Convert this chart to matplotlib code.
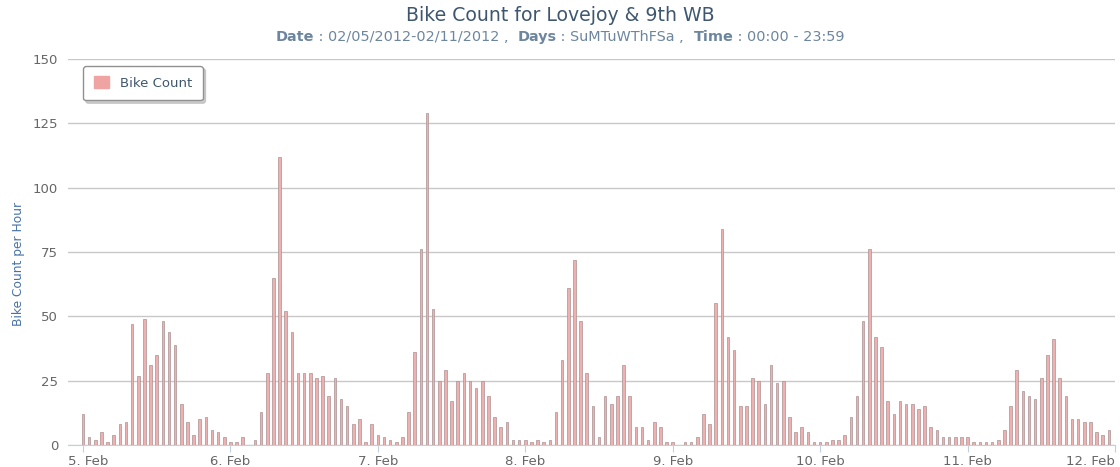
import numpy as np
import matplotlib.pyplot as plt
from matplotlib.patches import Patch
from matplotlib import transforms

plt.rcParams['font.family'] = 'DejaVu Sans'

# hourly bike counts, 5 Feb 00:00 .. 11 Feb 23:00 (one list per day)
day_5 = [12, 3, 2, 5, 1, 4, 8, 9, 47, 27, 49, 31, 35, 48, 44, 39, 16, 9, 4, 10, 11, 6, 5, 3]
day_6 = [1, 1, 3, 0, 2, 13, 28, 65, 112, 52, 44, 28, 28, 28, 26, 27, 19, 26, 18, 15, 8, 10, 1, 8]
day_7 = [4, 3, 2, 1, 3, 13, 36, 76, 129, 53, 25, 29, 17, 25, 28, 25, 22, 25, 19, 11, 7, 9, 2, 2]
day_8 = [2, 1, 2, 1, 2, 13, 33, 61, 72, 48, 28, 15, 3, 19, 16, 19, 31, 19, 7, 7, 2, 9, 7, 1]
day_9 = [1, 0, 1, 1, 3, 12, 8, 55, 84, 42, 37, 15, 15, 26, 25, 16, 31, 24, 25, 11, 5, 7, 5, 1]
day_10 = [1, 1, 2, 2, 4, 11, 19, 48, 76, 42, 38, 17, 12, 17, 16, 16, 14, 15, 7, 6, 3, 3, 3, 3]
day_11 = [3, 1, 1, 1, 1, 2, 6, 15, 29, 21, 19, 18, 26, 35, 41, 26, 19, 10, 10, 9, 9, 5, 4, 6]

day_labels = ["5. Feb", "6. Feb", "7. Feb", "8. Feb", "9. Feb", "10. Feb", "11. Feb", "12. Feb"]
y_ticks = [0, 25, 50, 75, 100, 125, 150]

counts = day_5 + day_6 + day_7 + day_8 + day_9 + day_10 + day_11
hours = np.arange(len(counts))

fig = plt.figure(figsize=(11.2, 4.67), dpi=100)
ax = fig.add_axes([0.0607, 0.0471, 0.9348, 0.8266])

ax.bar(hours, counts, width=0.42, color="#F0B0B0", edgecolor="#A89292", linewidth=0.5,
       zorder=3)

ax.set_xlim(-2.44, 168)
ax.set_ylim(0, 150)
ax.set_yticks(y_ticks)
ax.set_xticks(np.arange(0, 169, 24))
ax.set_xticklabels(day_labels)
ax.yaxis.grid(True, color="#C8C8C8", linewidth=1)
ax.set_axisbelow(True)

for s in ["top", "right", "left"]:
    ax.spines[s].set_visible(False)
ax.spines["bottom"].set_color("#C0D0E0")
ax.tick_params(axis="y", length=0, labelsize=9.5, labelcolor="#666666", pad=7)
ax.tick_params(axis="x", length=5, color="#C0D0E0", labelsize=9.5,
               labelcolor="#666666", pad=2)

# keep first / last day labels inside the plot like the original
lbls = ax.get_xticklabels()
lbls[0].set_ha("left")
lbls[0].set_transform(lbls[0].get_transform() +
                      transforms.ScaledTranslation(-0.15, 0, fig.dpi_scale_trans))
lbls[-1].set_ha("right")

ax.set_ylabel("Bike Count per Hour", color="#4572A7", fontsize=8.8)
ax.yaxis.set_label_coords(-0.041, 0.47)

leg = ax.legend(handles=[Patch(facecolor="#EFA3A3", edgecolor="#EFA3A3", label="Bike Count")],
                loc="upper left", bbox_to_anchor=(0.0143, 0.982), borderaxespad=0,
                fancybox=True, shadow={"color": "#B0B0B0", "alpha": 0.6},
                framealpha=1, edgecolor="#909090", fontsize=9.5,
                handlelength=1.2, handleheight=1.0, borderpad=0.8, labelcolor="#3E576F")
leg.get_frame().set_linewidth(1)

fig.text(0.5, 0.955, "Bike Count for Lovejoy & 9th WB", ha="center",
         fontsize=13.6, color="#3E576F")

# subtitle with bold keys, laid out piece by piece
parts = [("Date", "bold"), (" : 02/05/2012-02/11/2012 ,  ", "normal"),
         ("Days", "bold"), (" : SuMTuWThFSa ,  ", "normal"),
         ("Time", "bold"), (" : 00:00 - 23:59", "normal")]
sub_size = 10.4
renderer = fig.canvas.get_renderer()


def text_width(s, weight):
    t1 = fig.text(0, 0, "x" + s + "x", fontsize=sub_size, fontweight=weight)
    t2 = fig.text(0, 0, "xx", fontsize=sub_size, fontweight=weight)
    w = t1.get_window_extent(renderer).width - t2.get_window_extent(renderer).width
    t1.remove()
    t2.remove()
    return w


widths = [text_width(s, w) for s, w in parts]
x = (fig.bbox.width - sum(widths)) / 2
for (s, w), wd in zip(parts, widths):
    fig.text(x / fig.bbox.width, 0.913, s, fontsize=sub_size, fontweight=w, color="#6D869F",
             va="baseline")
    x += wd

fig.savefig("out.png", dpi=100)
